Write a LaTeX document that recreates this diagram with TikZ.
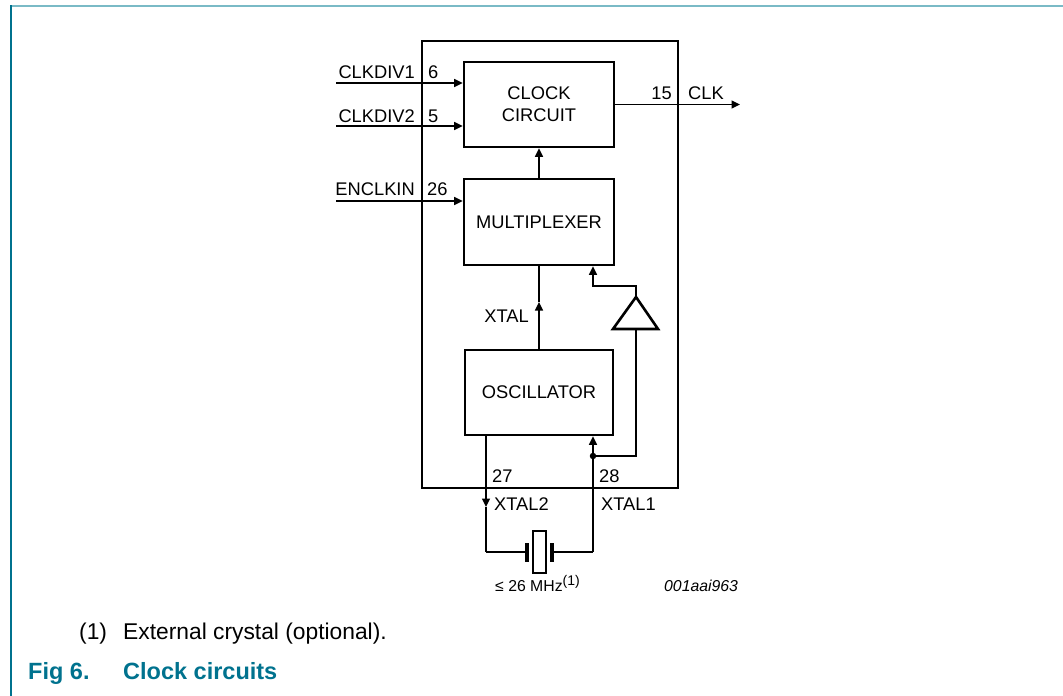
\documentclass[tikz,border=0pt]{standalone}
\usepackage{fontspec}
\setmainfont{Liberation Sans}
\usetikzlibrary{arrows.meta}
\definecolor{darkteal}{RGB}{0,114,142}
\definecolor{lightteal}{RGB}{122,186,198}
\tikzset{
  box/.style={draw, line width=2.6pt, minimum width=#1, inner sep=0pt},
  wire/.style={line width=1.3pt},
  arr/.style={wire, -{Triangle[length=8.5pt,width=8pt]}},
  lbl/.style={inner sep=0pt, font=\fontsize{18.3}{22}\selectfont},
  small/.style={inner sep=0pt, font=\fontsize{15.8}{19}\selectfont},
  dot/.style={circle, fill, inner sep=0pt, minimum size=6.5pt},
}
\begin{document}
\begin{tikzpicture}[x=1pt,y=-1pt]
\useasboundingbox (0,0) rectangle (1063,696);
% frame
\draw[lightteal, line width=2.6pt] (10,6) -- (1063,6);
\draw[darkteal, line width=2pt] (11,5) -- (11,696);
% chip outline
\node[box=256pt, minimum height=447pt] (chip) at (550,264.5) {};
% blocks
\node[box=150pt, minimum height=85pt, lbl, align=center, inner sep=0pt] (clock) at (539,104.5) {CLOCK\\CIRCUIT};
\node[box=150pt, minimum height=86pt, lbl] (mux) at (539,222) {MULTIPLEXER};
\node[box=148pt, minimum height=85pt, lbl] (osc) at (539,392.5) {OSCILLATOR};
% buffer triangle
\coordinate (apex) at (636,297);
\coordinate (base) at (636,329);
\draw[line width=2.6pt, line join=miter] (613,329) -- (658,329) -- (apex) -- cycle;
% inputs
\coordinate (cd1) at (336,83);
\coordinate (cd2) at (336,126);
\coordinate (enc) at (336,201);
\draw[arr] (cd1) -- (cd1 -| clock.west);
\draw[arr] (cd2) -- (cd2 -| clock.west);
\draw[arr] (enc) -- (enc -| mux.west);
\node[lbl, anchor=base east] (lcd1) at (415,78.5) {CLKDIV1};
\node[lbl, anchor=base west] (p6) at (428,78.5) {6};
\node[lbl, anchor=base east] (lcd2) at (415,122.5) {CLKDIV2};
\node[lbl, anchor=base west] (p5) at (428,122.5) {5};
\node[lbl, anchor=base east] (lenc) at (415,195.5) {ENCLKIN};
\node[lbl, anchor=base west] (p26) at (427,195.5) {26};
% output
\coordinate (clkout) at (740,104.5);
\draw[arr] (clock.east) -- (clkout);
\node[lbl, anchor=base east] (p15) at (672,99.5) {15};
\node[lbl, anchor=base west] (lclk) at (688,99.5) {CLK};
% mux -> clock
\draw[arr] (mux.north) -- (clock.south);
% osc -> mux (XTAL)
\coordinate (xtalmid) at (539,302);
\draw[arr] (osc.north) -- (xtalmid);
\draw[wire] (xtalmid) -- (mux.south);
\node[lbl, anchor=base east] (lxtal) at (529,322.5) {XTAL};
% buffer output -> mux
\coordinate (bturn) at (593,286);
\draw[arr] (apex) |- (bturn) -- (bturn |- mux.south);
% XTAL1 path
\coordinate (x1dot) at (593,456);
\coordinate (x1low) at (593,552);
\draw[wire] (base) |- (x1dot);
\node[dot] (jdot) at (x1dot) {};
\draw[arr] (x1low) -- (x1low |- osc.south);
% XTAL2 path
\coordinate (x2top) at (486,435);
\coordinate (x2mid) at (486,507);
\coordinate (x2low) at (486,552);
\draw[arr] (x2top) -- (x2mid);
\draw[wire] (x2mid) -- (x2low);
% crystal
\coordinate (plL) at (527,552);
\coordinate (plR) at (552,552);
\draw[wire] (x2low) -- (plL);
\draw[wire] (plR) -- (x1low);
\fill (525.3,543) rectangle (528.7,562);
\fill (550.3,543) rectangle (553.7,562);
\node[draw, line width=1.3pt, minimum width=13pt, minimum height=42pt, inner sep=0pt] (xtal) at (539.5,552) {};
% pin labels
\node[lbl, anchor=base west] (p27) at (492,482.5) {27};
\node[lbl, anchor=base west] (p28) at (599,482.5) {28};
\node[lbl, anchor=base west] (lx2) at (494,510.5) {XTAL2};
\node[lbl, anchor=base west] (lx1) at (601,510.5) {XTAL1};
\node[small, anchor=base west] (freq) at (495,591) {≤ 26 MHz\raisebox{6pt}{\fontsize{14}{16}\selectfont(1)}};
\node[small, anchor=base west, font=\fontsize{15.8}{19}\selectfont\itshape] (code) at (664,591) {001aai963};
% notes
\node[inner sep=0pt, anchor=base west, font=\fontsize{22.8}{27}\selectfont] (n1) at (79,639) {(1)};
\node[inner sep=0pt, anchor=base west, font=\fontsize{22.8}{27}\selectfont] (n2) at (123,639) {External crystal (optional).};
\node[inner sep=0pt, anchor=base west, text=darkteal, font=\fontsize{23.5}{28}\selectfont\bfseries] (f1) at (28,679) {Fig 6.};
\node[inner sep=0pt, anchor=base west, text=darkteal, font=\fontsize{23.5}{28}\selectfont\bfseries] (f2) at (123,679) {Clock circuits};
\end{tikzpicture}
\end{document}
